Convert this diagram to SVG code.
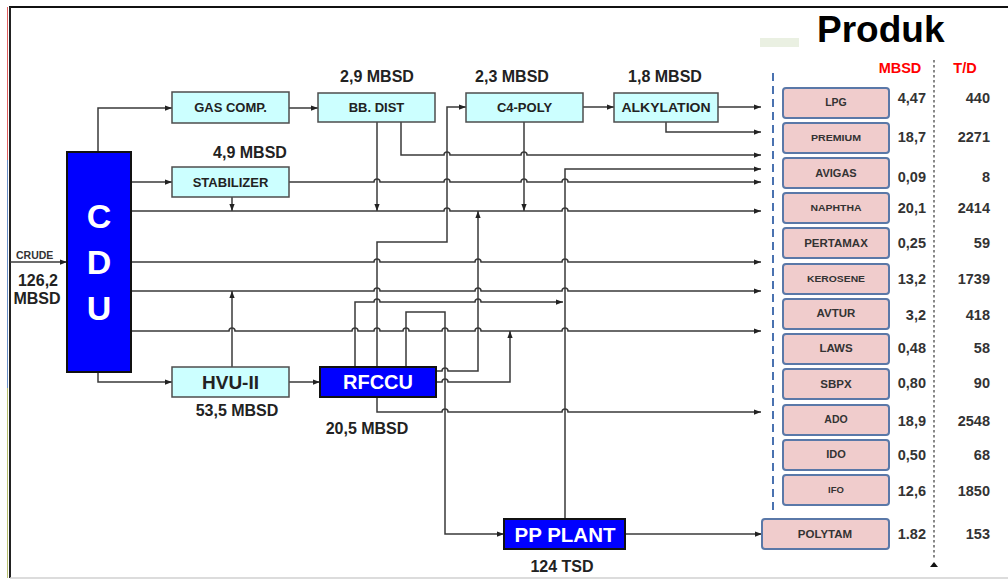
<svg xmlns="http://www.w3.org/2000/svg" width="1008" height="580" viewBox="0 0 1008 580">
<style>
text{font-family:"Liberation Sans",Arial,sans-serif;font-weight:bold}
.cy{fill:#CCFFFF;stroke:#4d4d4d;stroke-width:1.5}
.bl{fill:#0000FF;stroke:#111;stroke-width:2}
.pk{fill:#F0CCCC;stroke:#5A78A8;stroke-width:2}
.t11{font-size:13px;fill:#222;text-anchor:middle}
.lbl{font-size:16px;fill:#222;text-anchor:middle}
.wt{fill:#fff;text-anchor:middle}
.pn{fill:#333;text-anchor:middle}
.val{font-size:14.5px;fill:#333;text-anchor:end}
.hdr{font-size:14.5px;fill:#FF0000;text-anchor:middle}
.c path{fill:none;stroke:#3a3a3a;stroke-width:1.5}
</style>
<defs>
<marker id="a" viewBox="0 0 8 8" refX="8" refY="4" markerWidth="7" markerHeight="7" orient="auto" markerUnits="userSpaceOnUse"><path d="M0,1 L8,4 L0,7z" fill="#222"/></marker>
</defs>
<rect width="1008" height="580" fill="#fff"/>
<g id="frame">
<line x1="9" y1="7" x2="1008" y2="7" stroke="#111" stroke-width="2"/>
<line x1="10" y1="7" x2="10" y2="578" stroke="#222" stroke-width="2"/>
<line x1="7.5" y1="7" x2="7.5" y2="160" stroke="#E06060" stroke-width="1"/>
<line x1="7.5" y1="160" x2="7.5" y2="388" stroke="#6A90C8" stroke-width="1"/>
<line x1="7.5" y1="388" x2="7.5" y2="578" stroke="#B8C070" stroke-width="1"/>
<line x1="10" y1="578" x2="1008" y2="578" stroke="#d0d0d0" stroke-width="1.5"/>
<rect x="760" y="38" width="39" height="9" fill="#EAF0E2"/>
</g>
<g class="c" id="connectors">
<path d="M10 262 H67" marker-end="url(#a)"/>
<path d="M98 152 V108 H172" marker-end="url(#a)"/>
<path d="M289 108 H318" marker-end="url(#a)"/>
<path d="M377 367 V242 H447 V107 H466" marker-end="url(#a)"/>
<path d="M583 107 H614" marker-end="url(#a)"/>
<path d="M718 107 H761" marker-end="url(#a)"/>
<path d="M666 122 V132 H761" marker-end="url(#a)"/>
<path d="M377 122 V211" marker-end="url(#a)"/>
<path d="M401 122 V155 H444 a3 3 0 0 1 6 0 H521 a3 3 0 0 1 6 0 H761" marker-end="url(#a)"/>
<path d="M524 122 V211" marker-end="url(#a)"/>
<path d="M131 182 H172" marker-end="url(#a)"/>
<path d="M289 182 H374 a3 3 0 0 1 6 0 H444 a3 3 0 0 1 6 0 H521 a3 3 0 0 1 6 0 H562 a3 3 0 0 1 6 0 H761" marker-end="url(#a)"/>
<path d="M232 197 V211" marker-end="url(#a)"/>
<path d="M131 211 H444 a3 3 0 0 1 6 0 H562 a3 3 0 0 1 6 0 H761" marker-end="url(#a)"/>
<path d="M565 519 V169 H761" marker-end="url(#a)"/>
<path d="M131 262 H374 a3 3 0 0 1 6 0 H475 a3 3 0 0 1 6 0 H562 a3 3 0 0 1 6 0 H761" marker-end="url(#a)"/>
<path d="M131 291 H374 a3 3 0 0 1 6 0 H475 a3 3 0 0 1 6 0 H562 a3 3 0 0 1 6 0 H761" marker-end="url(#a)"/>
<path d="M131 331 H229 a3 3 0 0 1 6 0 H352 a3 3 0 0 1 6 0 H374 a3 3 0 0 1 6 0 H403 a3 3 0 0 1 6 0 H442 a3 3 0 0 1 6 0 H475 a3 3 0 0 1 6 0 H562 a3 3 0 0 1 6 0 H761" marker-end="url(#a)"/>
<path d="M232 367 V291" marker-end="url(#a)"/>
<path d="M98 372 V382 H172" marker-end="url(#a)"/>
<path d="M289 382 H320" marker-end="url(#a)"/>
<path d="M355 367 V302 H374 a3 3 0 0 1 6 0 H475 a3 3 0 0 1 6 0 H563" marker-end="url(#a)"/>
<path d="M406 367 V312 H445 V534 H504" marker-end="url(#a)"/>
<path d="M436 371 H442 a3 3 0 0 1 6 0 H478 V211" marker-end="url(#a)"/>
<path d="M436 382 H442 a3 3 0 0 1 6 0 H510 V331" marker-end="url(#a)"/>
<path d="M377 397 V412 H442 a3 3 0 0 1 6 0 H562 a3 3 0 0 1 6 0 H761" marker-end="url(#a)"/>
<path d="M625 534 H762" marker-end="url(#a)"/>
</g>
<g id="cdu"><rect class="bl" x="67" y="152" width="64" height="220"/>
<text class="wt" x="99" y="228" font-size="34">C</text>
<text class="wt" x="99" y="274" font-size="34">D</text>
<text class="wt" x="99" y="320" font-size="34">U</text></g>
<g id="crude"><text x="16" y="259" font-size="10.5" fill="#333">CRUDE</text>
<text x="38" y="286" font-size="16" fill="#222" text-anchor="middle">126,2</text>
<text x="37" y="304" font-size="16" fill="#222" text-anchor="middle">MBSD</text></g>
<g id="gascomp"><rect class="cy" x="172" y="92" width="117" height="31"/><text class="t11" x="230.5" y="112">GAS COMP.</text></g>
<g id="stabilizer"><rect class="cy" x="172" y="167" width="117" height="30"/><text class="t11" x="230.5" y="187">STABILIZER</text>
<text class="lbl" x="250" y="158">4,9 MBSD</text></g>
<g id="bbdist"><rect class="cy" x="318" y="93" width="117" height="29"/><text class="t11" x="376.5" y="112">BB. DIST</text>
<text class="lbl" x="377" y="82">2,9 MBSD</text></g>
<g id="c4poly"><rect class="cy" x="466" y="93" width="117" height="29"/><text class="t11" x="524.5" y="112">C4-POLY</text>
<text class="lbl" x="512" y="82">2,3 MBSD</text></g>
<g id="alkylation"><rect class="cy" x="614" y="93" width="104" height="29"/><text class="t11" x="666" y="112" textLength="89" lengthAdjust="spacingAndGlyphs">ALKYLATION</text>
<text class="lbl" x="665" y="82">1,8 MBSD</text></g>
<g id="hvu"><rect class="cy" x="172" y="367" width="117" height="30"/><text x="230.5" y="389" font-size="19" fill="#222" text-anchor="middle">HVU-II</text>
<text class="lbl" x="237" y="416">53,5 MBSD</text></g>
<g id="rfccu"><rect class="bl" x="320" y="367" width="116" height="30"/><text class="wt" x="378" y="389" font-size="20">RFCCU</text>
<text class="lbl" x="367" y="434">20,5 MBSD</text></g>
<g id="ppplant"><rect class="bl" x="504" y="519" width="121" height="30"/><text class="wt" x="565" y="542" font-size="20.5">PP PLANT</text>
<text class="lbl" x="562" y="572">124 TSD</text></g>
<g id="produk">
<text x="817" y="42" font-size="37" fill="#000">Produk</text>
<text class="hdr" x="900" y="73">MBSD</text>
<text class="hdr" x="965" y="73">T/D</text>
<line x1="773" y1="73" x2="773" y2="510" stroke="#4A72B0" stroke-width="2" stroke-dasharray="8 5"/>
<line x1="934" y1="60" x2="934" y2="560" stroke="#888" stroke-width="2" stroke-dasharray="2.5 2.5"/>
<path d="M930 567 L934 562 L938 567z" fill="#111"/>
</g>
<g id="p-lpg"><rect class="pk" x="783" y="88" width="106" height="30" rx="3"/><text class="pn" x="836" y="106" font-size="10.5">LPG</text><text class="val" x="926" y="103">4,47</text><text class="val" x="990" y="103">440</text></g>
<g id="p-premium"><rect class="pk" x="783" y="123" width="106" height="30" rx="3"/><text class="pn" x="836" y="141" font-size="9" textLength="50" lengthAdjust="spacingAndGlyphs">PREMIUM</text><text class="val" x="926" y="142">18,7</text><text class="val" x="990" y="142">2271</text></g>
<g id="p-avigas"><rect class="pk" x="783" y="158" width="106" height="30" rx="3"/><text class="pn" x="836" y="177" font-size="11">AVIGAS</text><text class="val" x="926" y="182">0,09</text><text class="val" x="990" y="182">8</text></g>
<g id="p-naphtha"><rect class="pk" x="783" y="193" width="106" height="30" rx="3"/><text class="pn" x="836" y="211" font-size="9" textLength="51" lengthAdjust="spacingAndGlyphs">NAPHTHA</text><text class="val" x="926" y="213">20,1</text><text class="val" x="990" y="213">2414</text></g>
<g id="p-pertamax"><rect class="pk" x="783" y="228" width="106" height="30" rx="3"/><text class="pn" x="836" y="247" font-size="11.5">PERTAMAX</text><text class="val" x="926" y="248">0,25</text><text class="val" x="990" y="248">59</text></g>
<g id="p-kerosene"><rect class="pk" x="783" y="264" width="106" height="30" rx="3"/><text class="pn" x="836" y="282" font-size="9" textLength="58" lengthAdjust="spacingAndGlyphs">KEROSENE</text><text class="val" x="926" y="284">13,2</text><text class="val" x="990" y="284">1739</text></g>
<g id="p-avtur"><rect class="pk" x="783" y="299" width="106" height="30" rx="3"/><text class="pn" x="836" y="317" font-size="11.5">AVTUR</text><text class="val" x="926" y="320">3,2</text><text class="val" x="990" y="320">418</text></g>
<g id="p-laws"><rect class="pk" x="783" y="334" width="106" height="30" rx="3"/><text class="pn" x="836" y="352" font-size="11.5">LAWS</text><text class="val" x="926" y="353">0,48</text><text class="val" x="990" y="353">58</text></g>
<g id="p-sbpx"><rect class="pk" x="783" y="369" width="106" height="30" rx="3"/><text class="pn" x="836" y="388" font-size="11.5">SBPX</text><text class="val" x="926" y="388">0,80</text><text class="val" x="990" y="388">90</text></g>
<g id="p-ado"><rect class="pk" x="783" y="405" width="106" height="30" rx="3"/><text class="pn" x="836" y="423" font-size="10.5">ADO</text><text class="val" x="926" y="426">18,9</text><text class="val" x="990" y="426">2548</text></g>
<g id="p-ido"><rect class="pk" x="783" y="440" width="106" height="30" rx="3"/><text class="pn" x="836" y="458" font-size="11">IDO</text><text class="val" x="926" y="460">0,50</text><text class="val" x="990" y="460">68</text></g>
<g id="p-ifo"><rect class="pk" x="783" y="475" width="106" height="30" rx="3"/><text class="pn" x="836" y="493" font-size="9.5">IFO</text><text class="val" x="926" y="496">12,6</text><text class="val" x="990" y="496">1850</text></g>
<g id="p-polytam"><rect class="pk" x="762" y="519" width="127" height="30" rx="3"/><text class="pn" x="825" y="538" font-size="11.5">POLYTAM</text><text class="val" x="926" y="539">1.82</text><text class="val" x="990" y="539">153</text></g>
</svg>
